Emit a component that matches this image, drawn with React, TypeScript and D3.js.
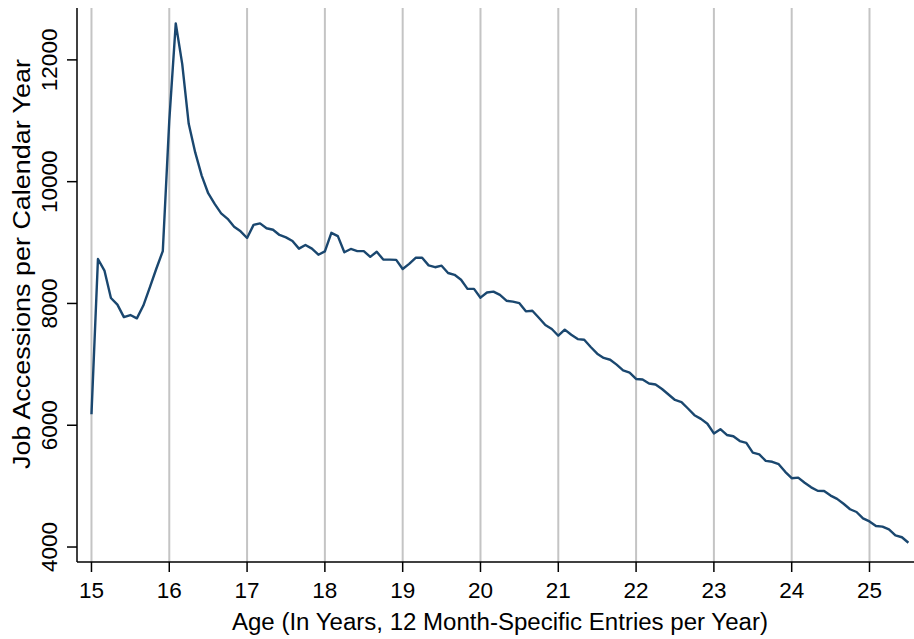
import React from "react";
import * as d3 from "d3";

// Monthly job accessions by age, one entry per month of age (12 per year).
const age15 = [6180, 8730, 8540, 8090, 7980, 7775, 7810, 7755, 7965, 8265, 8570, 8860];
const age16 = [11000, 12600, 11930, 10950, 10480, 10100, 9810, 9635, 9480, 9390, 9260, 9185];
const age17 = [9075, 9290, 9315, 9235, 9210, 9125, 9085, 9025, 8900, 8960, 8900, 8800];
const age18 = [8855, 9160, 9105, 8840, 8895, 8860, 8860, 8765, 8850, 8720, 8720, 8715];
const age19 = [8565, 8650, 8750, 8750, 8625, 8595, 8620, 8500, 8470, 8390, 8240, 8240];
const age20 = [8095, 8180, 8195, 8140, 8045, 8030, 8005, 7870, 7880, 7765, 7645, 7580];
const age21 = [7470, 7570, 7485, 7415, 7405, 7285, 7175, 7105, 7075, 6995, 6900, 6865];
const age22 = [6760, 6750, 6685, 6670, 6595, 6505, 6415, 6380, 6275, 6165, 6105, 6025];
const age23 = [5865, 5935, 5840, 5820, 5740, 5710, 5550, 5520, 5415, 5400, 5360, 5235];
const age24 = [5130, 5140, 5055, 4980, 4925, 4920, 4845, 4790, 4710, 4620, 4575, 4470];
const age25 = [4420, 4345, 4335, 4290, 4190, 4160, 4070];

const startAge = 15;
const xTicks = [15, 16, 17, 18, 19, 20, 21, 22, 23, 24, 25];
const yTicks = [4000, 6000, 8000, 10000, 12000];

const xTitle = "Age (In Years, 12 Month-Specific Entries per Year)";
const yTitle = "Job Accessions per Calendar Year";

const accessions = [
  ...age15, ...age16, ...age17, ...age18, ...age19, ...age20,
  ...age21, ...age22, ...age23, ...age24, ...age25,
];
const series = accessions.map((v, i) => ({ age: startAge + i / 12, value: v }));

const W = 914;
const H = 639;
const left = 77;
const right = 914;
const top = 8;
const bottom = 562;

const FONT = "'Liberation Sans', Arial, Helvetica, sans-serif";
const LINE_COLOR = "#1a476f";
const GRID_COLOR = "#c4c4c4";

export default function App() {
  const x = d3.scaleLinear().domain([14.814, 25.572]).range([left, right]);
  const y = d3.scaleLinear().domain([3754, 12852]).range([bottom, top]);

  const line = d3
    .line<{ age: number; value: number }>()
    .x((d) => x(d.age))
    .y((d) => y(d.value));

  const xTitleCenter = (x(15) + x(startAge + (accessions.length - 1) / 12)) / 2;

  return (
    <svg
      width={W}
      height={H}
      style={{ position: "absolute", left: 0, top: 0, background: "#fff" }}
      fontFamily={FONT}
    >
      <rect x={0} y={0} width={W} height={H} fill="#fff" />

      {/* vertical gridlines at each year */}
      {xTicks.map((t) => (
        <line
          key={`g${t}`}
          x1={x(t)}
          x2={x(t)}
          y1={top}
          y2={bottom}
          stroke={GRID_COLOR}
          strokeWidth={2}
        />
      ))}

      {/* series */}
      <path
        d={line(series) ?? ""}
        fill="none"
        stroke={LINE_COLOR}
        strokeWidth={2.4}
        strokeLinejoin="round"
      />

      {/* axes */}
      <line x1={left} x2={left} y1={top} y2={bottom} stroke="#000" strokeWidth={1.5} />
      <line x1={left} x2={right} y1={bottom} y2={bottom} stroke="#000" strokeWidth={1.5} />

      {xTicks.map((t) => (
        <g key={`x${t}`}>
          <line x1={x(t)} x2={x(t)} y1={bottom} y2={bottom + 10} stroke="#000" strokeWidth={1.5} />
          <text x={x(t)} y={598} textAnchor="middle" fontSize={22.5} fill="#000">
            {t}
          </text>
        </g>
      ))}

      {yTicks.map((t) => (
        <g key={`y${t}`}>
          <line x1={left - 10} x2={left} y1={y(t)} y2={y(t)} stroke="#000" strokeWidth={1.5} />
          <text
            transform={`translate(56.5,${y(t)}) rotate(-90)`}
            textAnchor="middle"
            fontSize={22.5}
            fill="#000"
          >
            {t}
          </text>
        </g>
      ))}

      <text
        x={xTitleCenter}
        y={630}
        textAnchor="middle"
        fontSize={23}
        fill="#000"
        textLength={536}
        lengthAdjust="spacingAndGlyphs"
      >
        {xTitle}
      </text>
      <text
        transform={`translate(29.5,264) rotate(-90)`}
        textAnchor="middle"
        fontSize={23}
        fill="#000"
        textLength={410}
        lengthAdjust="spacingAndGlyphs"
      >
        {yTitle}
      </text>
    </svg>
  );
}
